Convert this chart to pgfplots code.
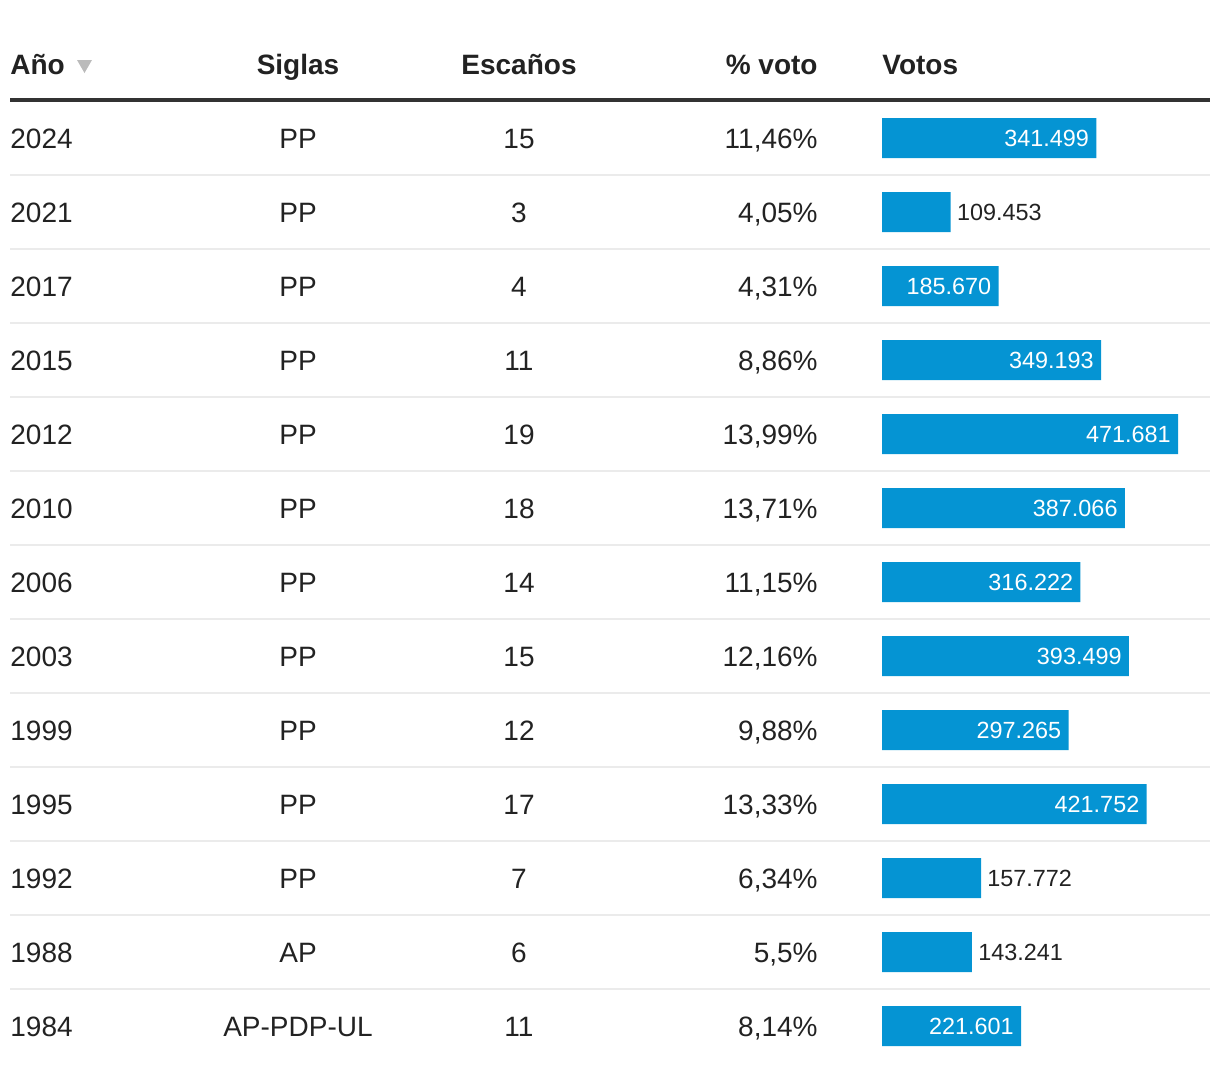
\documentclass[border=0pt]{standalone}
\usepackage{pgfplots}
\pgfplotsset{compat=1.18}
\usepackage{pgfplotstable}
\usepackage{fontspec}
\setmainfont{Liberation Sans}
\definecolor{barblue}{HTML}{0594D3}
\definecolor{txt}{HTML}{222222}
\definecolor{rulec}{HTML}{333333}
\definecolor{sepc}{HTML}{EBEBEB}
\definecolor{tri}{HTML}{BBBBBB}

% bars whose label sits inside (white)
\pgfplotstableread{
i v lab
0 341.499 341.499
2 185.670 185.670
3 349.193 349.193
4 471.681 471.681
5 387.066 387.066
6 316.222 316.222
7 393.499 393.499
8 297.265 297.265
9 421.752 421.752
12 221.601 221.601
}\barsIn
% bars whose label sits outside (dark)
\pgfplotstableread{
i v lab
1 109.453 109.453
10 157.772 157.772
11 143.241 143.241
}\barsOut

\tikzset{tx/.style={inner sep=0pt, text=txt, font=\fontsize{14}{16}\selectfont},
         hd/.style={inner sep=0pt, text=txt, font=\bfseries\fontsize{14}{16}\selectfont}}

\newcommand\row[5]{%
  \node[tx, anchor=base west] at (axis cs:10,#1) {#2};
  \node[tx, anchor=base] at (axis cs:298,#1) {#3};
  \node[tx, anchor=base] at (axis cs:519,#1) {#4};
  \node[tx, anchor=base east] at (axis cs:818,#1) {#5};
}

\begin{document}
\begin{tikzpicture}
\begin{axis}[at={(0,0)}, anchor=south west, scale only axis,
  width=610pt, height=536pt,
  xmin=0, xmax=1220, ymin=0, ymax=1072, y dir=reverse,
  hide axis, clip=false]
  \path (axis cs:0,0) rectangle (axis cs:1220,1072);
  % header
  \node[hd, anchor=base west] at (axis cs:10,74) {Año};
  \fill[tri] (axis cs:77,60) -- (axis cs:92,60) -- (axis cs:84.5,73) -- cycle;
  \node[hd, anchor=base] at (axis cs:298,74) {Siglas};
  \node[hd, anchor=base] at (axis cs:519,74) {Escaños};
  \node[hd, anchor=base east] at (axis cs:818,74) {\% voto};
  \node[hd, anchor=base west] at (axis cs:882,74) {Votos};
  \draw[rulec, line width=2pt] (axis cs:10,100) -- (axis cs:1210,100);
  \pgfplotsinvokeforeach{175,249,323,397,471,545,619,693,767,841,915,989}{
    \draw[sepc, line width=1pt] (axis cs:10,#1) -- (axis cs:1210,#1);
  }
  \row{148}{2024}{PP}{15}{11,46\%}
  \row{222}{2021}{PP}{3}{4,05\%}
  \row{296}{2017}{PP}{4}{4,31\%}
  \row{370}{2015}{PP}{11}{8,86\%}
  \row{444}{2012}{PP}{19}{13,99\%}
  \row{518}{2010}{PP}{18}{13,71\%}
  \row{592}{2006}{PP}{14}{11,15\%}
  \row{666}{2003}{PP}{15}{12,16\%}
  \row{740}{1999}{PP}{12}{9,88\%}
  \row{814}{1995}{PP}{17}{13,33\%}
  \row{888}{1992}{PP}{7}{6,34\%}
  \row{962}{1988}{AP}{6}{5,5\%}
  \row{1036}{1984}{AP-PDP-UL}{11}{8,14\%}
\end{axis}
\begin{axis}[at={(0,0)}, anchor=south west, scale only axis,
  width=610pt, height=536pt,
  xmin=-1405.5, xmax=538.6, ymin=-1.8649, ymax=12.6216, y dir=reverse,
  hide axis, clip=false]
  \addplot[xbar, bar shift=0pt, bar width=0.5405, fill=barblue, draw=none,
    nodes near coords, point meta=explicit symbolic,
    every node near coord/.append style={anchor=east, text=white, xshift=-3.5pt,
      inner sep=0pt, font=\fontsize{11.7}{13}\selectfont}]
    table[x=v, y=i, meta=lab] {\barsIn};
  \addplot[xbar, bar shift=0pt, bar width=0.5405, fill=barblue, draw=none,
    nodes near coords, point meta=explicit symbolic,
    every node near coord/.append style={anchor=west, text=txt, xshift=3pt,
      inner sep=0pt, font=\fontsize{11.7}{13}\selectfont}]
    table[x=v, y=i, meta=lab] {\barsOut};
\end{axis}
\end{tikzpicture}
\end{document}
